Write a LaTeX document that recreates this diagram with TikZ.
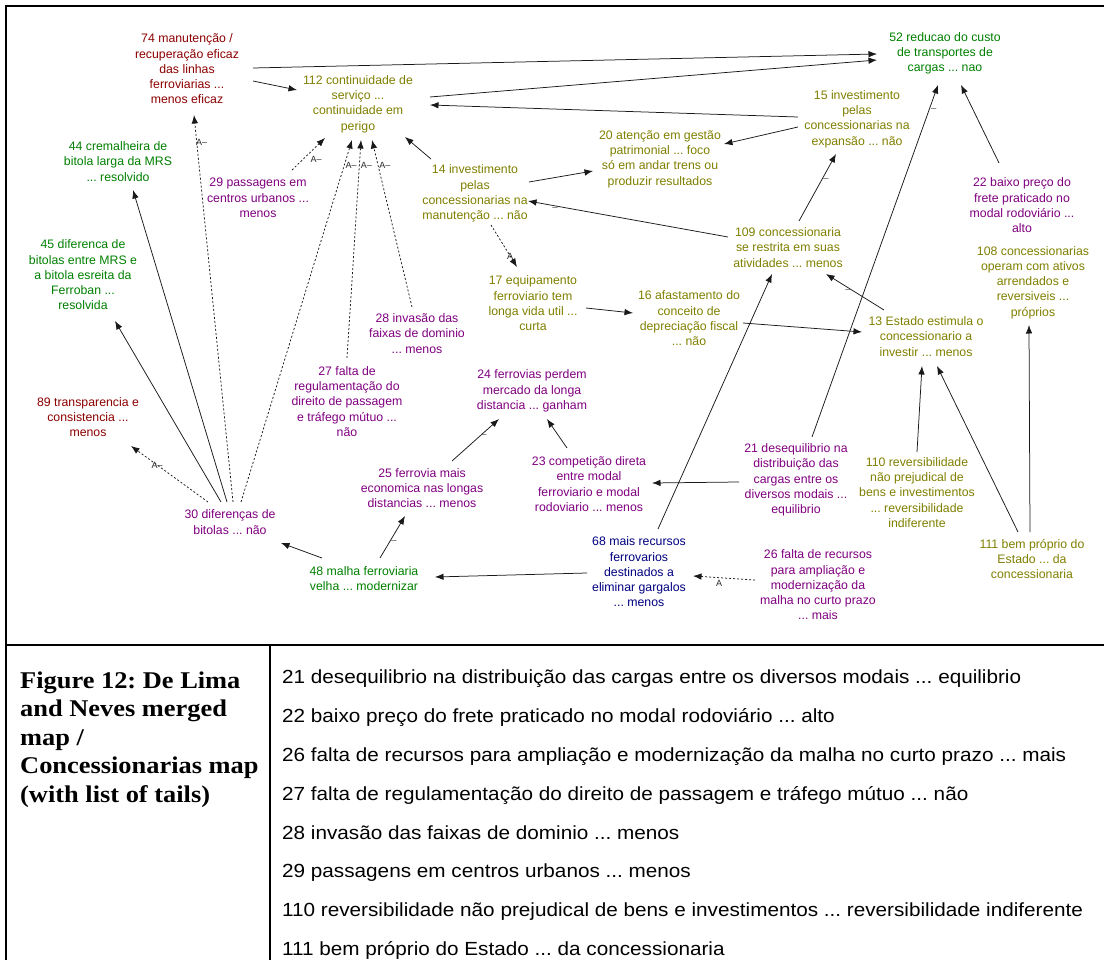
\documentclass[tikz,border=0pt]{standalone}
\usepackage{fontspec}
\setmainfont{Liberation Sans}
\newfontfamily\tabfont[FakeStretch=1.09]{Liberation Sans}
\newfontfamily\capfont[FakeStretch=1.1]{Liberation Serif}
\usetikzlibrary{arrows.meta,calc}
\frenchspacing
\definecolor{cOlive}{RGB}{128,128,0}
\definecolor{cGreen}{RGB}{0,128,0}
\definecolor{cPurple}{RGB}{128,0,128}
\definecolor{cMaroon}{RGB}{140,0,0}
\definecolor{cNavy}{RGB}{0,0,128}
\definecolor{cLine}{RGB}{25,25,25}
\tikzset{
  concept/.style={font=\fontsize{12.3}{15.3}\selectfont, align=center, inner sep=0pt},
  tOlive/.style={concept, text=cOlive},
  tGreen/.style={concept, text=cGreen},
  tPurple/.style={concept, text=cPurple},
  tMaroon/.style={concept, text=cMaroon},
  tNavy/.style={concept, text=cNavy},
  arr/.style={draw=cLine, line width=0.75pt, -{Latex[length=8.5pt,width=6.5pt]}},
  darr/.style={arr, dash pattern=on 2pt off 2pt},
  sgn/.style={font=\fontsize{9.5}{9.5}\selectfont, text=black!70, inner sep=1.5pt},
  albl/.style={font=\fontsize{9}{9}\selectfont, text=black!85, inner sep=0pt},
  rowtext/.style={font=\tabfont\fontsize{19}{22}\selectfont, anchor=base west, inner sep=0pt},
}
\begin{document}
\begin{tikzpicture}[x=1pt,y=-1pt]
\useasboundingbox (0,0) rectangle (1104,960);
\fill[white] (0,0) rectangle (1104,960);

% ---- concept nodes ----
\node[tMaroon] (n74) at (187,69) {74 manutenção /\\recuperação eficaz\\das linhas\\ferroviarias ...\\menos eficaz};
\node[tOlive] (n112) at (358,104) {112 continuidade de\\serviço ...\\continuidade em\\perigo};
\node[tGreen] (n52) at (945,53.5) {52 reducao do custo\\de transportes de\\cargas ... nao};
\node[tOlive] (n15) at (857,119) {15 investimento\\pelas\\concessionarias na\\expansão ... não};
\node[tOlive] (n20) at (660,159) {20 atenção em gestão\\patrimonial ... foco\\só em andar trens ou\\produzir resultados};
\node[tOlive] (n14) at (475,193.5) {14 investimento\\pelas\\concessionarias na\\manutenção ... não};
\node[tPurple] (n22) at (1022,205.5) {22 baixo preço do\\frete praticado no\\modal rodoviário ...\\alto};
\node[tGreen] (n44) at (118,161.5) {44 cremalheira de\\bitola larga da MRS\\... resolvido};
\node[tPurple] (n29) at (258,198) {29 passagens em\\centros urbanos ...\\menos};
\node[tGreen] (n45) at (83,275) {45 diferenca de\\bitolas entre MRS e\\a bitola esreita da\\Ferroban ...\\resolvida};
\node[tPurple] (n28) at (417,333.5) {28 invasão das\\faixas de dominio\\... menos};
\node[tPurple] (n27) at (347,401.5) {27 falta de\\regulamentação do\\direito de passagem\\e tráfego mútuo ...\\não};
\node[tMaroon] (n89) at (88,417) {89 transparencia e\\consistencia ...\\menos};
\node[tOlive] (n17) at (533,303.5) {17 equipamento\\ferroviario tem\\longa vida util ...\\curta};
\node[tOlive] (n109) at (788,247.5) {109 concessionaria\\se restrita em suas\\atividades ... menos};
\node[tOlive] (n108) at (1033,282.5) {108 concessionarias\\operam com ativos\\arrendados e\\reversiveis ...\\próprios};
\node[tOlive] (n16) at (689,318.5) {16 afastamento do\\conceito de\\depreciação fiscal\\... não};
\node[tOlive] (n13) at (926,336.5) {13 Estado estimula o\\concessionario a\\investir ... menos};
\node[tPurple] (n24) at (532,391) {24 ferrovias perdem\\mercado da longa\\distancia ... ganham};
\node[tPurple] (n30) at (230,522) {30 diferenças de\\bitolas ... não};
\node[tPurple] (n25) at (422,488) {25 ferrovia mais\\economica nas longas\\distancias ... menos};
\node[tGreen] (n48) at (364,578.5) {48 malha ferroviaria\\velha ... modernizar};
\node[tPurple] (n23) at (589,484) {23 competição direta\\entre modal\\ferroviario e modal\\rodoviario ... menos};
\node[tPurple] (n21) at (796,480) {21 desequilibrio na\\distribuição das\\cargas entre os\\diversos modais ...\\equilibrio};
\node[tOlive] (n110) at (917,492.5) {110 reversibilidade\\não prejudical de\\bens e investimentos\\... reversibilidade\\indiferente};
\node[tOlive] (n111) at (1032,559) {111 bem próprio do\\Estado ... da\\concessionaria};
\node[tNavy] (n68) at (639,572) {68 mais recursos\\ferrovarios\\destinados a\\eliminar gargalos\\... menos};
\node[tPurple] (n26) at (818,585) {26 falta de recursos\\para ampliação e\\modernização da\\malha no curto prazo\\... mais};

% ---- solid links ----
\draw[arr] ($(n74.center)+(66,-1)$) -- ($(n52.center)+(-68,0.5)$);
\draw[arr] ($(n112.center)+(72,-7)$) -- ($(n52.center)+(-68,6.5)$);
\draw[arr] ($(n74.center)+(66,12)$) -- ($(n112.center)+(-61,-14)$);
\draw[arr] ($(n15.center)+(-59,-2)$) -- ($(n112.center)+(72,1)$);
\draw[arr] ($(n15.center)+(-59,8)$) -- ($(n20.center)+(64,-15)$);
\draw[arr] ($(n14.center)+(-44,-34.5)$) -- ($(n112.center)+(47,33)$);
\draw[arr] ($(n14.center)+(54,-11.5)$) -- ($(n20.center)+(-67,12)$);
\draw[arr] ($(n109.center)+(-60,-10.5)$) -- node[sgn,pos=.865,below]{–} ($(n14.center)+(53,7.5)$);
\draw[arr] ($(n109.center)+(11,-26.5)$) -- node[sgn,pos=.61,right]{–} ($(n15.center)+(-21,35)$);
\draw[arr] ($(n22.center)+(-23,-42.5)$) -- ($(n52.center)+(16,31.5)$);
\draw[arr] ($(n21.center)+(16,-43)$) -- node[sgn,pos=.93,right]{–} ($(n52.center)+(-7,31.5)$);
\draw[arr] ($(n17.center)+(53,4.5)$) -- ($(n16.center)+(-56,-5.5)$);
\draw[arr] ($(n16.center)+(54,4.5)$) -- ($(n13.center)+(-64,-4.5)$);
\draw[arr] ($(n13.center)+(-42,-26.5)$) -- node[sgn,pos=.62,below]{–} ($(n109.center)+(38,26.5)$);
\draw[arr] ($(n68.center)+(19,-43)$) -- ($(n109.center)+(-16,26.5)$);
\draw[arr] ($(n110.center)+(0,-40.5)$) -- ($(n13.center)+(-4,29.5)$);
\draw[arr] ($(n111.center)+(-14,-27)$) -- ($(n13.center)+(11,29.5)$);
\draw[arr] ($(n111.center)+(-2,-27)$) -- ($(n108.center)+(-4,42.5)$);
\draw[arr] ($(n21.center)+(-57,2)$) -- ($(n23.center)+(63,-1)$);
\draw[arr] ($(n23.center)+(-22,-36)$) -- ($(n24.center)+(15,28)$);
\draw[arr] ($(n25.center)+(30,-27)$) -- node[sgn,pos=.68,below]{–} ($(n24.center)+(-33,28)$);
\draw[arr] ($(n48.center)+(16,-20.5)$) -- node[sgn,pos=.38,right]{–} ($(n25.center)+(-17,28)$);
\draw[arr] ($(n48.center)+(-42,-20.5)$) -- ($(n30.center)+(51,21)$);
\draw[arr] ($(n68.center)+(-52,1)$) -- ($(n48.center)+(71,-1.5)$);
\draw[arr] ($(n30.center)+(-9,-20)$) -- ($(n45.center)+(32,46)$);
\draw[arr] ($(n30.center)+(-3,-20)$) -- ($(n44.center)+(15,28.5)$);

% ---- dashed links ----
\draw[darr] ($(n14.center)+(16,31.5)$) -- node[albl,pos=.74]{A} ($(n17.center)+(-16,-36.5)$);
\draw[darr] ($(n26.center)+(-63,-5)$) -- node[albl,pos=.58,anchor=north,yshift=-2pt]{A} ($(n68.center)+(54,4)$);
\draw[darr] ($(n30.center)+(-22,-20)$) -- node[albl,pos=.66]{A–} ($(n89.center)+(43,29)$);
\draw[darr] ($(n30.center)+(3,-20)$) -- node[albl,pos=.928,anchor=west,xshift=-1pt]{A–} ($(n74.center)+(7,46)$);
\draw[darr] ($(n30.center)+(11,-20)$) -- node[albl,pos=.931,anchor=west,xshift=1pt]{A–} ($(n112.center)+(-6,36)$);
\draw[darr] ($(n27.center)+(0,-43.5)$) -- node[albl,pos=.885,anchor=west,xshift=1pt]{A–} ($(n112.center)+(3,36)$);
\draw[darr] ($(n28.center)+(-5,-26.5)$) -- node[albl,pos=.85,anchor=west,xshift=1pt]{A–} ($(n112.center)+(14,36)$);
\draw[darr] ($(n29.center)+(34,-28)$) -- node[albl,pos=.344,anchor=west,xshift=7pt]{A–} ($(n112.center)+(-33,34)$);

% ---- frame and table ----
\draw[line width=2.6pt] (6,960) -- (6,6) -- (1104,6);
\draw[line width=2pt] (6,645) -- (1104,645);
\draw[line width=1.4pt] (270,645) -- (270,960);

\node[font=\capfont\bfseries\fontsize{24}{28.5}\selectfont, align=left, anchor=north west, inner sep=0pt] (cap) at (20,671.5)
  {Figure 12: De Lima\\and Neves merged\\map /\\Concessionarias map\\(with list of tails)};

\node[rowtext] (r21) at (282,683) {21 desequilibrio na distribuição das cargas entre os diversos modais ... equilibrio};
\node[rowtext] (r22) at (282,722) {22 baixo preço do frete praticado no modal rodoviário ... alto};
\node[rowtext] (r26) at (282,761) {26 falta de recursos para ampliação e modernização da malha no curto prazo ... mais};
\node[rowtext] (r27) at (282,800) {27 falta de regulamentação do direito de passagem e tráfego mútuo ... não};
\node[rowtext] (r28) at (282,839) {28 invasão das faixas de dominio ... menos};
\node[rowtext] (r29) at (282,877) {29 passagens em centros urbanos ... menos};
\node[rowtext] (r110) at (282,916) {110 reversibilidade não prejudical de bens e investimentos ... reversibilidade indiferente};
\node[rowtext] (r111) at (282,955) {111 bem próprio do Estado ... da concessionaria};
\end{tikzpicture}
\end{document}
